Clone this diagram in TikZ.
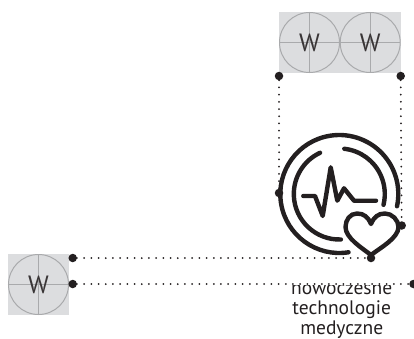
\documentclass[tikz,border=0pt]{standalone}
\usepackage{fontspec}
\setmainfont{PT Sans}
\definecolor{cellgray}{HTML}{DCDDDF}
\definecolor{wheelgray}{HTML}{A9AAAC}
\definecolor{inkblack}{HTML}{231F20}
\tikzset{
    cell/.style={fill=cellgray, minimum size=61pt, inner sep=0pt, outer sep=0pt},
    wheel/.style={draw=wheelgray, line width=1pt, circle, minimum size=60pt, inner sep=0pt, outer sep=0pt},
    spoke/.style={draw=wheelgray, line width=1.3pt},
    wlabel/.style={text=inkblack!90, font=\fontsize{25}{25}\selectfont},
    pin/.style={fill=inkblack, circle, minimum size=8.5pt, inner sep=0pt, outer sep=0pt},
    dotline/.style={draw=inkblack, line width=2pt, line cap=round, dash pattern=on 0pt off 7.2pt},
    iconline/.style={draw=inkblack, line width=4.4pt, line cap=round, line join=round},
}
\begin{document}
\begin{tikzpicture}[x=1pt, y=1pt]
    \useasboundingbox (0, 0) rectangle (414, 338);

    % W cells
    \node[cell] (cellA) at (309.5, 295.5) {};
    \node[cell] (cellB) at (370.2, 295.5) {};
    \node[cell] (cellC) at (38.5, 53.5) {};
    \foreach \w in {A, B, C} {
        \node[wheel] (wheel\w) at (cell\w) {};
        \draw[spoke] (wheel\w.north) -- (wheel\w.south);
        \draw[spoke] (wheel\w.west) -- (wheel\w.east);
        \node[wlabel] (label\w) at (wheel\w) {W};
    }

    % caption
    \node[align=center, anchor=north, inner sep=0pt, text=inkblack, font=\fontsize{19.5}{19.8}\selectfont] (caption) at (341.7, 53.5) {nowoczesne\\technologie\\medyczne};

    % pins
    \node[pin] (pinTL) at (279, 262) {};
    \node[pin] (pinTR) at (400.7, 262) {};
    \node[pin] (pinIL) at (279, 145) {};
    \node[pin] (pinIR) at (401.7, 112.5) {};
    \node[pin] (pinIB) at (371, 80) {};
    \node[pin] (pinLA) at (72.7, 80) {};
    \node[pin] (pinLB) at (72.7, 54) {};
    \node[pin] (pinFR) at (413.5, 54) {};

    % dotted links
    \draw[dotline] (pinTL) -- (pinIL);
    \draw[dotline] (pinTR) -- (pinIR);
    \draw[dotline] (pinLA) -- (pinIB);
    \draw[white, line width=2.6pt] (pinLB) -- (pinFR);
    \draw[dotline] (pinLB) -- (pinFR);

    % icon
    \coordinate (icon) at (339.3, 144);
    \draw[iconline] (icon) ++(-81:59pt) arc[start angle=-81, end angle=-372, radius=59pt];
    \draw[iconline] (icon) ++(-88:45.5pt) arc[start angle=-88, end angle=-245, radius=45.5pt];
    \draw[iconline] (icon) ++(83.7:45.5pt) arc[start angle=83.7, end angle=-13.8, radius=45.5pt];
    \draw[iconline] (303.3, 142) -- (315, 142) -- (322.7, 122) -- (330.7, 170.7) -- (337.3, 137.3) -- (344, 149.7) -- (354, 137.3) -- (376, 137.3);
    \draw[iconline] (371, 114) .. controls (368, 121) and (364, 124.5) .. (357, 124.5)
        .. controls (350, 124.5) and (345.5, 118) .. (345.5, 111)
        .. controls (345.5, 100) and (362, 90) .. (371, 83)
        .. controls (380, 90) and (398.5, 100) .. (398.5, 111)
        .. controls (398.5, 118) and (392, 124.5) .. (385, 124.5)
        .. controls (378, 124.5) and (374, 121) .. (371, 114) -- cycle;
\end{tikzpicture}
\end{document}
